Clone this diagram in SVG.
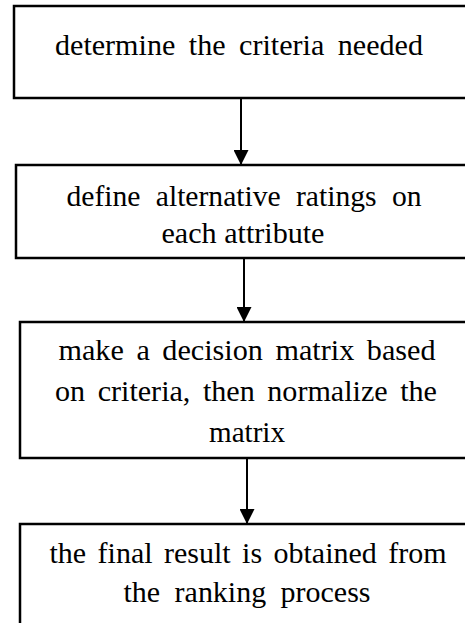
<svg xmlns="http://www.w3.org/2000/svg" width="465" height="623" viewBox="0 0 465 623">
<style>
.box{fill:#fff;stroke:#000;stroke-width:2.5}
.t{font-family:"Liberation Serif","Times New Roman",serif;font-size:30px;fill:#000;text-anchor:middle}
.c{stroke:#000;stroke-width:2;fill:none}
</style>
<defs>
<marker id="ah" viewBox="0 0 10 10" refX="10" refY="5" markerWidth="7.5" markerHeight="7.5" orient="auto" markerUnits="strokeWidth">
<path d="M0,0 L10,5 L0,10 Z" fill="#000"/>
</marker>
</defs>
<rect width="465" height="623" fill="#fff"/>
<g id="n1">
<rect class="box" x="14" y="6" width="456" height="92"/>
<text class="t" x="239" y="55" word-spacing="6" textLength="368" lengthAdjust="spacingAndGlyphs">determine the criteria needed</text>
</g>
<g id="n2">
<rect class="box" x="16" y="165" width="456" height="93"/>
<text class="t" x="244" y="206" word-spacing="8" textLength="355" lengthAdjust="spacingAndGlyphs">define alternative ratings on</text>
<text class="t" x="243" y="243" textLength="163" lengthAdjust="spacingAndGlyphs">each attribute</text>
</g>
<g id="n3">
<rect class="box" x="20" y="322" width="456" height="136"/>
<text class="t" x="247" y="360" word-spacing="5" textLength="377" lengthAdjust="spacingAndGlyphs">make a decision matrix based</text>
<text class="t" x="246" y="401" word-spacing="5" textLength="382" lengthAdjust="spacingAndGlyphs">on criteria, then normalize the</text>
<text class="t" x="247" y="442" textLength="76" lengthAdjust="spacingAndGlyphs">matrix</text>
</g>
<g id="n4">
<rect class="box" x="20" y="524" width="456" height="120"/>
<text class="t" x="248" y="563" word-spacing="4" textLength="397" lengthAdjust="spacingAndGlyphs">the final result is obtained from</text>
<text class="t" x="247" y="602" word-spacing="7" textLength="247" lengthAdjust="spacingAndGlyphs">the ranking process</text>
</g>
<g id="connectors">
<line class="c" x1="241" y1="98" x2="241" y2="165" marker-end="url(#ah)"/>
<line class="c" x1="244" y1="258" x2="244" y2="322" marker-end="url(#ah)"/>
<line class="c" x1="247" y1="458" x2="247" y2="524" marker-end="url(#ah)"/>
</g>
</svg>
